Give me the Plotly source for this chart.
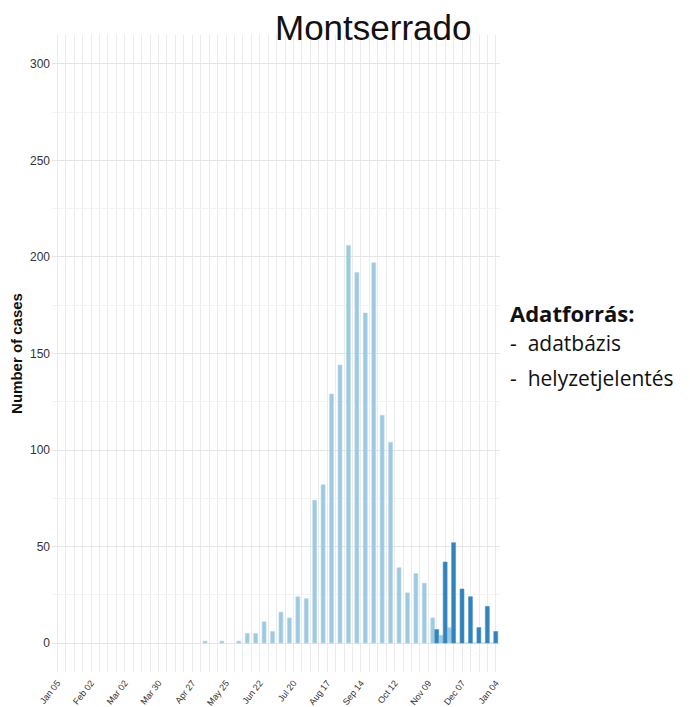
import pandas as pd
import plotly.graph_objects as go

# Weekly group dates (bars centred within each week)
week_dates = pd.date_range("2014-01-10 06:00", periods=52, freq="7D")

# Source 1: database ("adatbázis") - weekly cases
database_cases = [None] * 17 + [
    1, None, 1, None, 1, 5, 5, 11, 6, 16, 13, 24, 23,
    74, 82, 129, 144, 206, 192, 171, 197, 118, 104,
    39, 26, 36, 31, 13, 4, 8, 0, 0, 0, 0, 0,
]

# Source 2: situation reports ("helyzetjelentés")
sitrep_cases = [None] * 44 + [7, 42, 52, 28, 24, 8, 19, 6]

tick_dates = pd.date_range("2014-01-05", "2015-01-04", freq="28D")
y_ticks = [0, 50, 100, 150, 200, 250, 300]

title_text = "Montserrado"
y_title = "Number of cases"
legend_title = "Adatforrás:"
legend_items = ["adatbázis", "helyzetjelentés"]

light = "#9ECAE1"
dark = "#3182BD"

fig = go.Figure()
fig.add_trace(go.Bar(
    x=week_dates, y=database_cases, name=legend_items[0],
    marker=dict(color=light, line=dict(color="#B5D7EA", width=0.6)),
))
fig.add_trace(go.Bar(
    x=week_dates, y=sitrep_cases, name=legend_items[1],
    marker=dict(color=dark, line=dict(color="#4E95C8", width=0.6)),
))

fig.update_layout(
    width=682, height=699,
    margin=dict(l=44, r=190, t=27, b=35),
    plot_bgcolor="white", paper_bgcolor="white",
    barmode="group", bargap=0.06, bargroupgap=0,
    showlegend=False,
    font=dict(family="Liberation Sans, Arial", color="#333333"),
    xaxis=dict(
        type="date",
        range=["2013-12-31 14:00", "2015-01-07 10:00"],
        tickvals=list(tick_dates),
        ticktext=[d.strftime("%b %d") for d in tick_dates],
        tickangle=-52,
        tickfont=dict(family="Liberation Sans Narrow, Arial", size=9, color="#333333"),
        showgrid=True, gridcolor="#EBEBEB", gridwidth=1,
        minor=dict(dtick=7 * 24 * 3600 * 1000, tick0="2014-01-05",
                   showgrid=True, gridcolor="#EBEBEB", gridwidth=1),
        zeroline=False, showline=False, ticks="",
        automargin=False,
        ticklabelstandoff=3,
    ),
    yaxis=dict(
        range=[-15, 315],
        tickvals=y_ticks,
        tickfont=dict(family="Liberation Sans Narrow, Arial", size=12, color="#333333"),
        showgrid=True, gridcolor="#E5E5E5", gridwidth=1,
        minor=dict(dtick=25, tick0=0, showgrid=True, gridcolor="#F3F3F3", gridwidth=1),
        zeroline=False, showline=False, ticks="",
        ticklabelstandoff=1,
        title=dict(text="<b>" + y_title + "</b>",
                   font=dict(family="Liberation Sans, Arial", size=15, color="#111111"),
                   standoff=7),
        automargin=False,
    ),
    annotations=[
        dict(text=title_text, xref="paper", yref="paper", x=0.7165, y=1.0,
             xanchor="center", yanchor="bottom", yshift=-14, showarrow=False,
             font=dict(family="Liberation Sans, Arial", size=35, color="#111111")),
        dict(text="<b>" + legend_title + "</b>", xref="paper", yref="paper",
             x=1.0179, y=0.5636, xanchor="left", yanchor="middle", showarrow=False,
             font=dict(family="Open Sans", size=22, color="#111111")),
        dict(text="-  " + legend_items[0], xref="paper", yref="paper",
             x=1.0179, y=0.5165, xanchor="left", yanchor="middle", showarrow=False,
             font=dict(family="Open Sans", size=21, color="#111111")),
        dict(text="-  " + legend_items[1], xref="paper", yref="paper",
             x=1.0179, y=0.4615, xanchor="left", yanchor="middle", showarrow=False,
             font=dict(family="Open Sans", size=21, color="#111111")),
    ],
)

fig.write_html("out.html")
